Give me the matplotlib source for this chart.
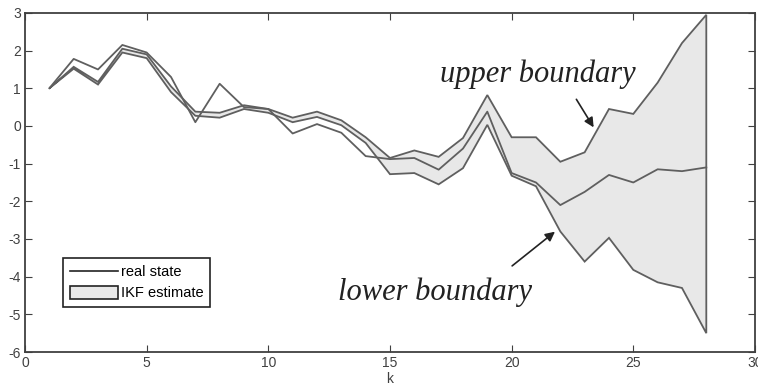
import numpy as np
import matplotlib.pyplot as plt
from matplotlib.patches import Patch
from matplotlib.lines import Line2D

# time index
k = np.arange(1, 29)

# real state
real_state = [1.0, 1.78, 1.5, 2.15, 1.95, 1.3, 0.1, 1.12, 0.5, 0.45,
              -0.2, 0.05, -0.18, -0.8, -0.88, -0.85, -1.16, -0.6, 0.38, -1.25,
              -1.5, -2.1, -1.75, -1.3, -1.5, -1.15, -1.2, -1.1]

# IKF estimate boundaries
upper_bound = [1.0, 1.57, 1.17, 2.05, 1.9, 1.05, 0.38, 0.35, 0.55, 0.45,
               0.22, 0.38, 0.15, -0.3, -0.85, -0.65, -0.82, -0.32, 0.82, -0.3,
               -0.3, -0.95, -0.7, 0.45, 0.32, 1.15, 2.2, 2.95]
lower_bound = [1.0, 1.52, 1.1, 1.95, 1.8, 0.9, 0.27, 0.22, 0.45, 0.35,
               0.1, 0.24, 0.02, -0.45, -1.28, -1.25, -1.55, -1.12, 0.03, -1.32,
               -1.6, -2.8, -3.6, -2.97, -3.82, -4.15, -4.3, -5.5]

xticks = [0, 5, 10, 15, 20, 25, 30]
yticks = [-6, -5, -4, -3, -2, -1, 0, 1, 2, 3]

plt.rcParams['font.family'] = ['Liberation Sans', 'DejaVu Sans']
plt.rcParams['axes.unicode_minus'] = False

fig = plt.figure(figsize=(7.58, 3.92), dpi=100)
ax = fig.add_axes([0.033, 0.102, 0.963, 0.865])

band_x = np.concatenate([k, k[::-1]])
band_y = np.concatenate([upper_bound, lower_bound[::-1]])
ax.fill(band_x, band_y, facecolor='#e8e8e8', edgecolor='#5f5f5f', linewidth=1.3)
ax.plot(k, real_state, color='#5f5f5f', linewidth=1.3)

ax.set_xlim(0, 30)
ax.set_ylim(-6, 3)
ax.set_xticks(xticks)
ax.set_yticks(yticks)
ax.tick_params(direction='in', top=True, right=True, length=5, labelsize=10,
               color='#404040', labelcolor='#404040', pad=3)
for s in ax.spines.values():
    s.set_color('#404040')
    s.set_linewidth(1.3)
ax.set_xlabel('k', fontsize=10, color='#404040', labelpad=1)

handles = [Line2D([0], [0], color='#222222', linewidth=1.2),
           Patch(facecolor='#e8e8e8', edgecolor='#222222', linewidth=1.2)]
leg = ax.legend(handles, ['real state', 'IKF estimate'], loc='lower left',
                bbox_to_anchor=(0.052, 0.133), fontsize=10.5, fancybox=False,
                framealpha=1, edgecolor='#222222', borderpad=0.45,
                handlelength=3.3, handleheight=1.0, handletextpad=0.25,
                labelspacing=0.45, borderaxespad=0)
leg.get_frame().set_linewidth(1.2)

ax.text(17.06, 1.17, 'upper boundary', fontsize=22, style='italic',
        family='Liberation Serif', color='#222222', va='baseline')
ax.text(12.86, -4.61, 'lower boundary', fontsize=22, style='italic',
        family='Liberation Serif', color='#222222', va='baseline')
ax.annotate('', xy=(23.43, -0.1), xytext=(22.6, 0.77),
            arrowprops=dict(arrowstyle='-|>', color='#222222', lw=1.2, mutation_scale=14))
ax.annotate('', xy=(21.87, -2.76), xytext=(19.93, -3.76),
            arrowprops=dict(arrowstyle='-|>', color='#222222', lw=1.2, mutation_scale=14))

fig.savefig('out.png', dpi=100)
